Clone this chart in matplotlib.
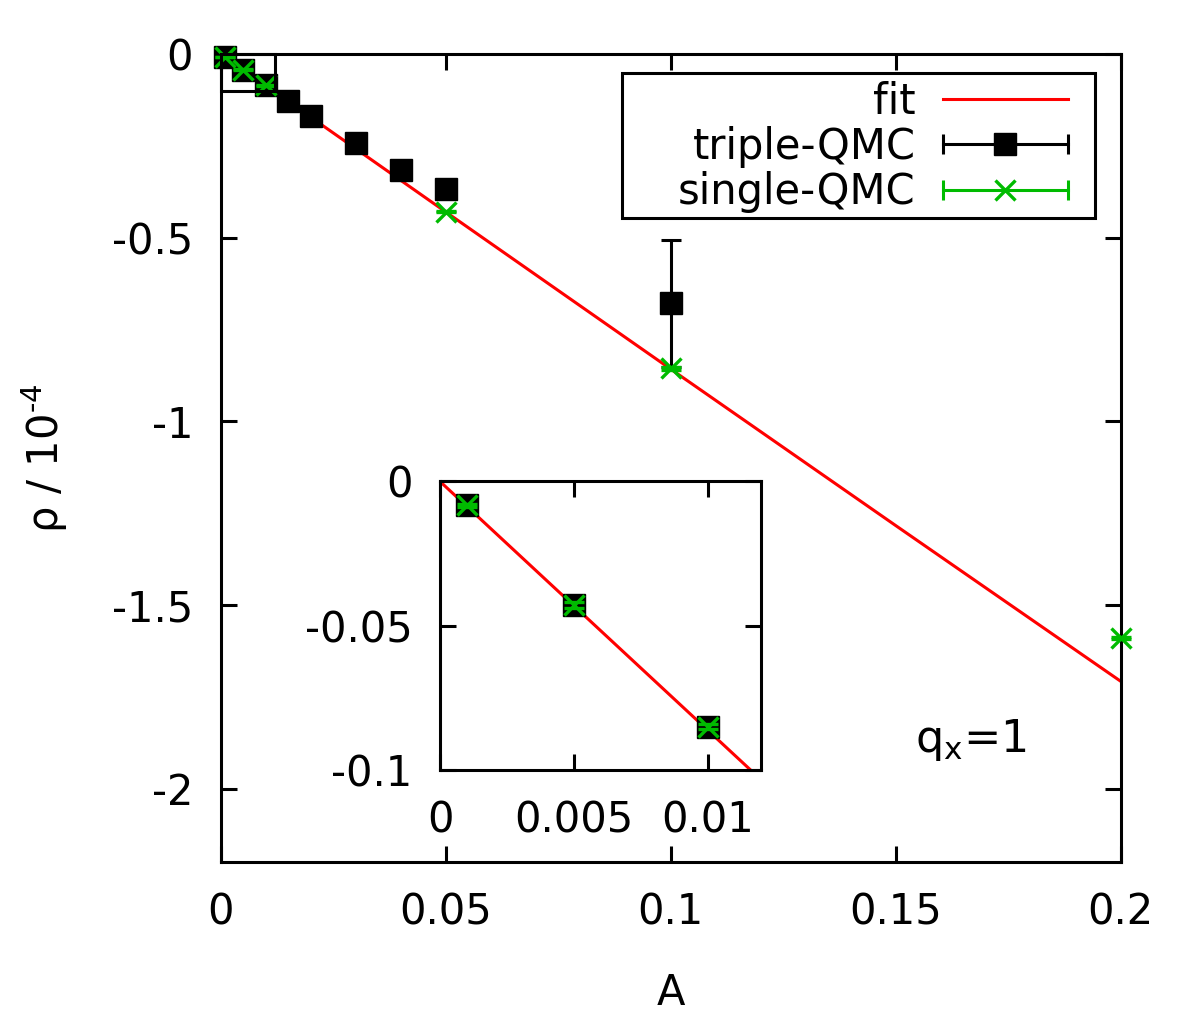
import matplotlib
matplotlib.use("Agg")
import matplotlib.pyplot as plt
from matplotlib.lines import Line2D
from matplotlib.patches import Rectangle
from matplotlib.legend_handler import HandlerLine2D

plt.rcParams['font.family'] = ['DejaVu Sans']
plt.rcParams['font.size'] = 30

# data (rho in units of 1e-4)
fit_A = [0.0, 0.05, 0.1, 0.15, 0.2]
fit_rho = [0.0, -0.430, -0.858, -1.284, -1.708]

triple_A = [0.001, 0.005, 0.01, 0.015, 0.02, 0.03, 0.04, 0.05, 0.1]
triple_rho = [-0.0083, -0.0427, -0.0848, -0.128, -0.169, -0.243, -0.316, -0.368, -0.679]
triple_err = [0.001, 0.002, 0.002, 0.003, 0.003, 0.004, 0.005, 0.006, 0.173]

single_A = [0.001, 0.005, 0.01, 0.05, 0.1, 0.2]
single_rho = [-0.0083, -0.0427, -0.0848, -0.429, -0.856, -1.590]
single_err = [0.0005, 0.001, 0.001, 0.002, 0.003, 0.004]

main_xticks = [0, 0.05, 0.1, 0.15, 0.2]
main_xlabels = ['0', '0.05', '0.1', '0.15', '0.2']
main_yticks = [0, -0.5, -1, -1.5, -2]
main_ylabels = ['0', '-0.5', '-1', '-1.5', '-2']
inset_xticks = [0, 0.005, 0.01]
inset_xlabels = ['0', '0.005', '0.01']
inset_yticks = [0, -0.05, -0.1]
inset_ylabels = ['0', '-0.05', '-0.1']

main_xlim = (0, 0.2)
main_ylim = (-2.2, 0)
inset_xlim = (0, 0.012)
inset_ylim = (-0.1, 0)

red = '#ff0000'
green = '#00bb00'
lw = 2.2


def style_axes(ax, xt, xl, yt, yl):
    for s in ax.spines.values():
        s.set_linewidth(lw)
    ax.set_xticks(xt, xl)
    ax.set_yticks(yt, yl)
    ax.tick_params(direction='in', length=11.5, width=lw, top=True, right=True)
    ax.tick_params(axis='y', pad=20)
    ax.tick_params(axis='x', pad=21)


def draw_data(ax):
    ax.plot(fit_A, fit_rho, color=red, lw=lw, zorder=2)
    ax.errorbar(triple_A, triple_rho, yerr=triple_err, fmt='s', color='k',
                markersize=16, elinewidth=2.2, capsize=7.2, capthick=2.2,
                clip_on=False, zorder=3)
    ax.errorbar(single_A, single_rho, yerr=single_err, fmt='x', color=green,
                markersize=14, mew=2.4, elinewidth=2, capsize=7.2, capthick=2,
                clip_on=False, zorder=4)


fig = plt.figure(figsize=(12, 10.19), dpi=100)
ax = fig.add_axes([0.184, 0.154, 0.75, 0.793])
draw_data(ax)
ax.set_xlim(*main_xlim)
ax.set_ylim(*main_ylim)
style_axes(ax, main_xticks, main_xlabels, main_yticks, main_ylabels)

# box marking the zoomed region
ax.add_patch(Rectangle((inset_xlim[0], inset_ylim[0]),
                       inset_xlim[1] - inset_xlim[0], inset_ylim[1] - inset_ylim[0],
                       fill=False, lw=lw, edgecolor='k', zorder=5, clip_on=False))

ax.set_xlabel('A')
ax.set_ylabel(r'ρ / 10$^{\text{-4}}$')
ax.xaxis.label.set_va('center')
ax.yaxis.label.set_va('center')
ax.xaxis.set_label_coords(0.5, -0.162)
ax.yaxis.set_label_coords(-0.196, 0.5)

ax.text(0.771, 0.151, r'q$_{\mathregular{x}}$=1', transform=ax.transAxes,
        ha='left', va='center', fontsize=32)

# legend in gnuplot style
fit_h = Line2D([], [], color=red, lw=lw)
trip_bar = Line2D([], [], color='k', lw=2.2, marker='|', markersize=14, mew=2.2)
trip_pt = Line2D([], [], color='k', ls='none', marker='s', markersize=16)
sing_bar = Line2D([], [], color=green, lw=2.2, marker='|', markersize=14, mew=2.2)
sing_pt = Line2D([], [], color=green, ls='none', marker='x', markersize=14, mew=2.4)
ends = HandlerLine2D(numpoints=2, marker_pad=0)
leg = ax.legend([fit_h, (trip_bar, trip_pt), (sing_bar, sing_pt)],
                ['fit', 'triple-QMC', 'single-QMC'],
                handler_map={trip_bar: ends, sing_bar: ends},
                loc='upper right', bbox_to_anchor=(0.941, 0.967),
                borderaxespad=0, borderpad=0, markerfirst=False,
                handlelength=3.0, handletextpad=0.65, labelspacing=0.08,
                frameon=False)
leg.set_zorder(10)
# legend frame like gnuplot's key box
ax.add_patch(Rectangle((0.4456, 0.797), 0.5254, 0.1795, transform=ax.transAxes,
                       fill=True, facecolor='white', edgecolor='k', lw=lw,
                       zorder=9))

# inset
axin = fig.add_axes([0.3667, 0.2439, 0.2675, 0.2836])
draw_data(axin)
axin.set_xlim(*inset_xlim)
axin.set_ylim(*inset_ylim)
style_axes(axin, inset_xticks, inset_xlabels, inset_yticks, inset_ylabels)
for art in axin.get_children():
    try:
        art.set_clip_on(True)
    except AttributeError:
        pass

fig.savefig('out.png', dpi=100)
